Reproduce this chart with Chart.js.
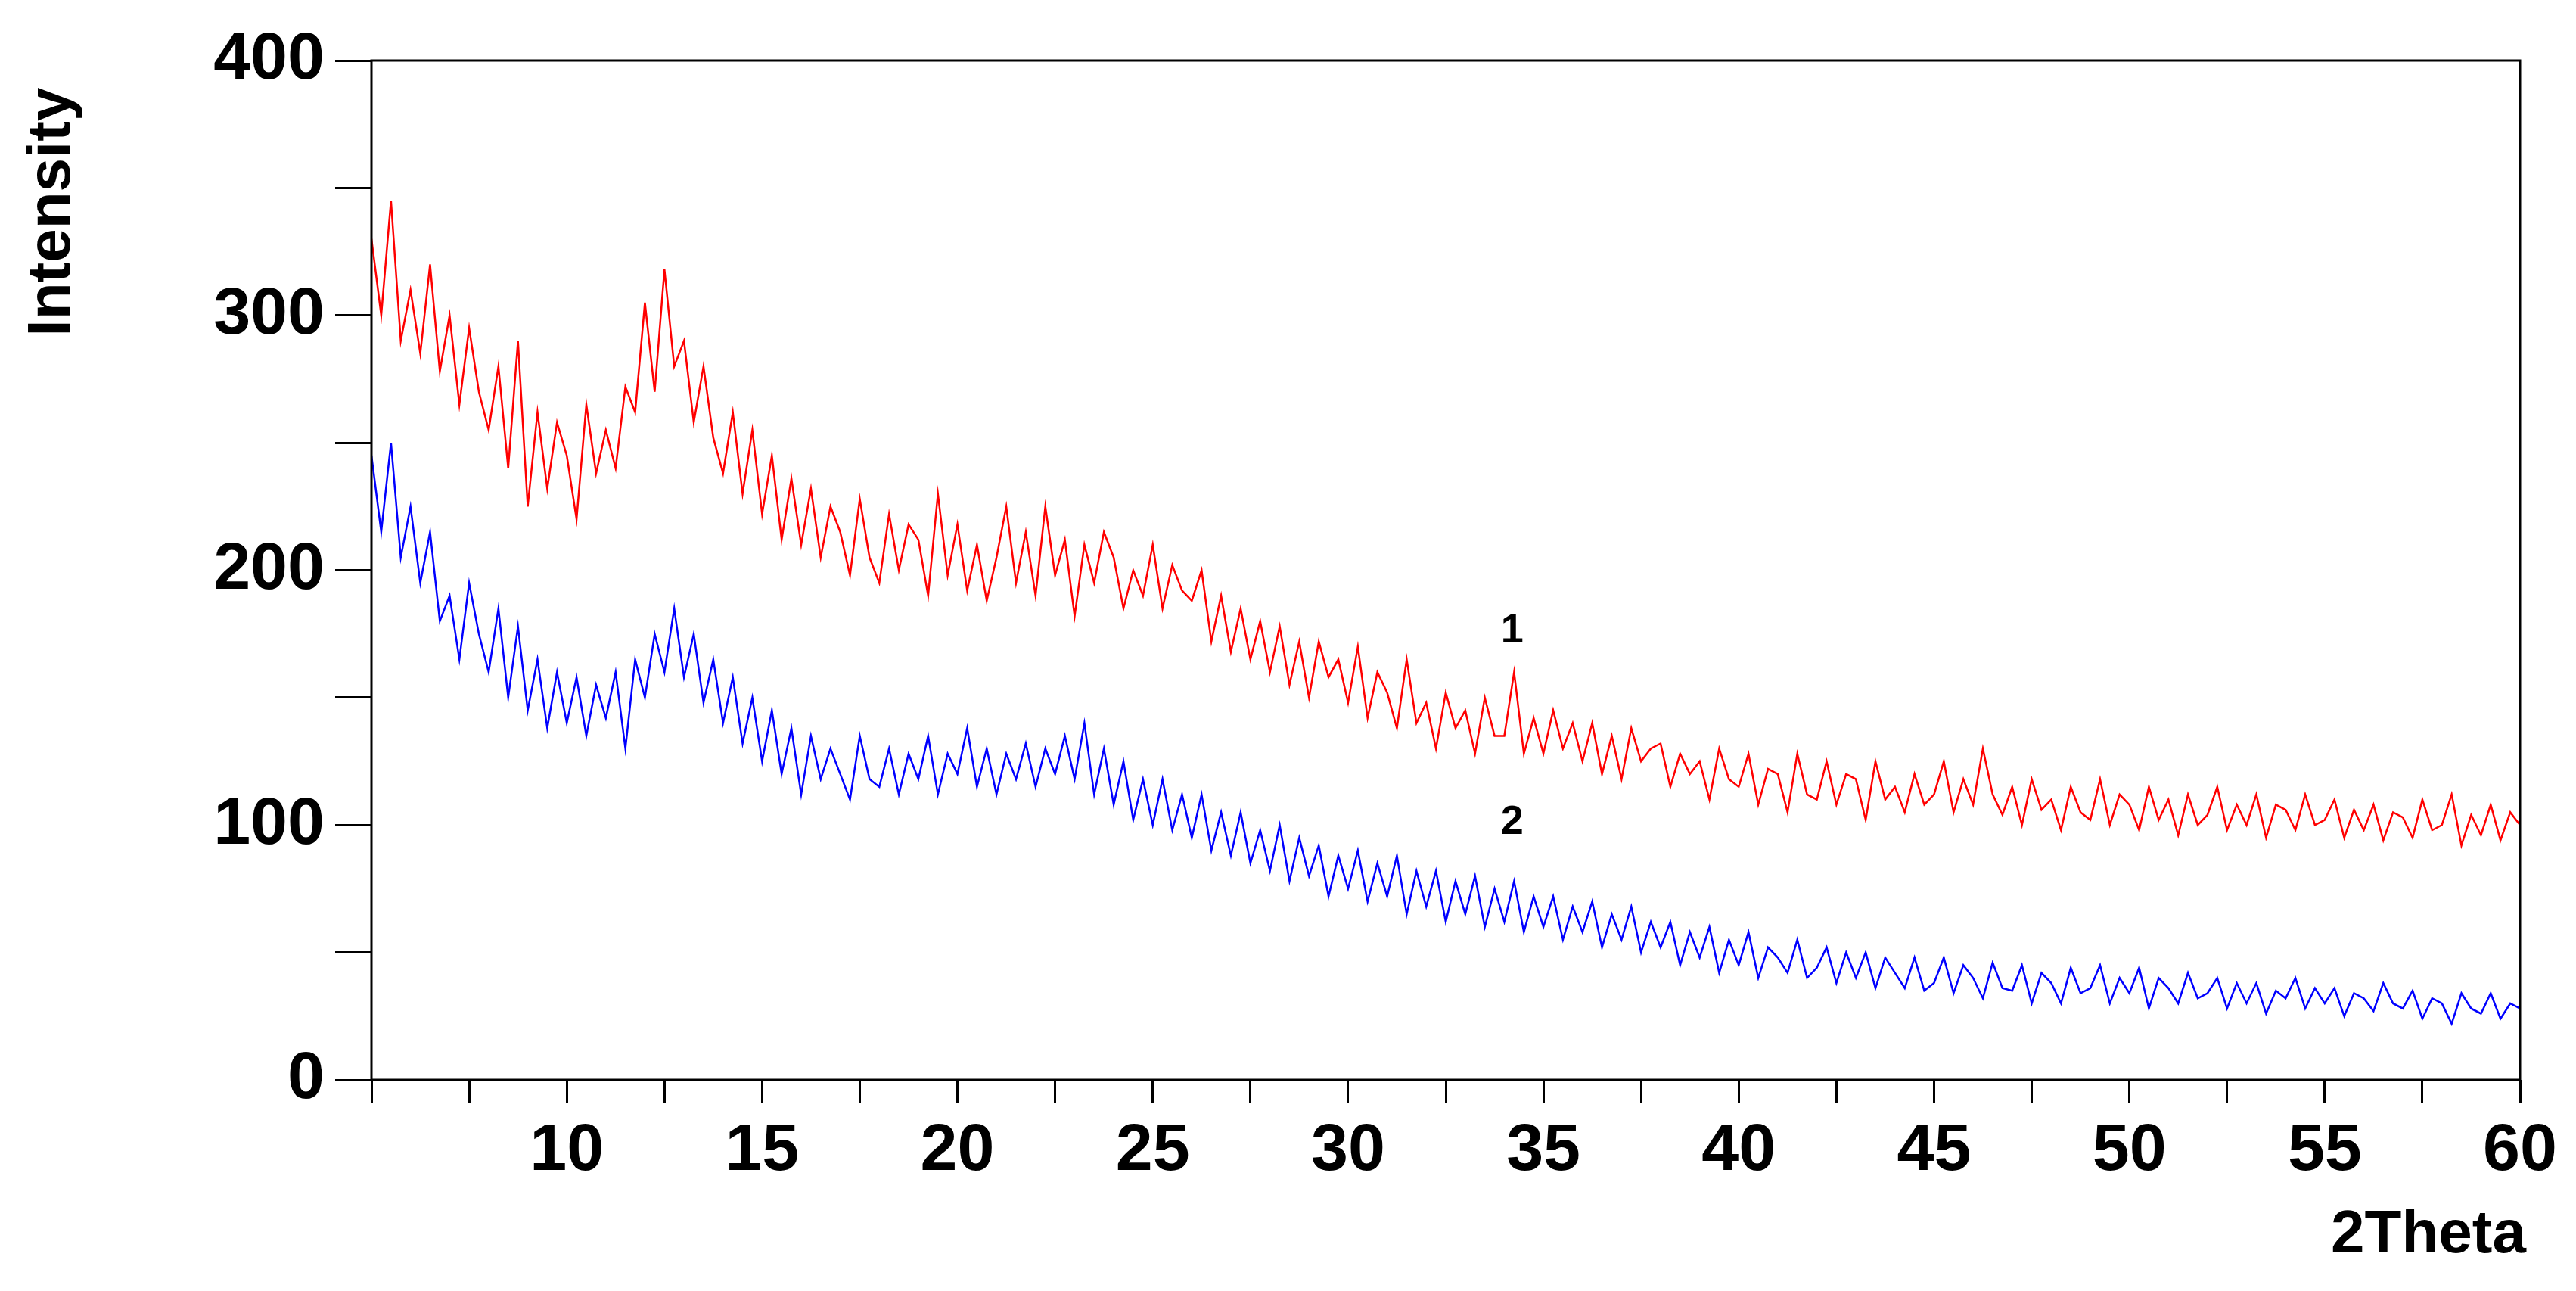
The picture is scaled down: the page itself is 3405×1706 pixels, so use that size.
<!DOCTYPE html>
<html>
<head>
<meta charset="utf-8">
<script src="https://cdn.jsdelivr.net/npm/chart.js@4/dist/chart.umd.min.js"></script>
<style>
  html, body { margin: 0; padding: 0; background: #fff; }
  #wrap { width: 3405px; height: 1706px; }
</style>
</head>
<body>
<div id="wrap"><canvas id="xrd"></canvas></div>
<script>
// 2Theta sampling: starts at 5 degrees, 0.25 degree step
const thetaStart = 5;
const thetaStep = 0.25;

// curve 1 (red)
const curve1 = [
  330,300,345,290, 310,285,320,278, 300,265,295,270, 255,280,240,290,
  225,262,232,258, 245,220,265,238, 255,240,272,262, 305,270,318,280,
  290,258,280,252, 238,262,230,255, 222,245,212,236, 210,232,205,225,
  215,198,228,205, 195,222,200,218, 212,190,230,198, 218,192,210,188,
  205,225,195,215, 190,225,198,212, 182,210,195,215, 205,185,200,190,
  210,185,202,192, 188,200,172,190, 168,185,165,180, 160,178,155,172,
  150,172,158,165, 148,170,142,160, 152,138,165,140, 148,130,152,138,
  145,128,150,135, 135,160,128,142, 128,145,130,140, 125,140,120,135,
  118,138,125,130, 132,115,128,120, 125,110,130,118, 115,128,108,122,
  120,105,128,112, 110,125,108,120, 118,102,125,110, 115,105,120,108,
  112,125,105,118, 108,130,112,104, 115,100,118,106, 110,98,115,105,
  102,118,100,112, 108,98,115,102, 110,96,112,100, 104,115,98,108,
  100,112,95,108, 106,98,112,100, 102,110,95,106, 98,108,94,105,
  103,95,110,98, 100,112,92,104, 96,108,94,105, 100
];

// curve 2 (blue)
const curve2 = [
  245,215,250,205, 225,195,215,180, 190,165,195,175, 160,185,150,178,
  145,165,138,160, 140,158,135,155, 142,160,130,165, 150,175,160,185,
  158,175,148,165, 140,158,132,150, 125,145,120,138, 112,135,118,130,
  120,110,135,118, 115,130,112,128, 118,135,112,128, 120,138,115,130,
  112,128,118,132, 115,130,120,135, 118,140,112,130, 108,125,102,118,
  100,118,98,112, 95,112,90,105, 88,105,85,98, 82,100,78,95,
  80,92,72,88, 75,90,70,85, 72,88,65,82, 68,82,62,78,
  65,80,60,75, 62,78,58,72, 60,72,55,68, 58,70,52,65,
  55,68,50,62, 52,62,45,58, 48,60,42,55, 45,58,40,52,
  48,42,55,40, 44,52,38,50, 40,50,36,48, 42,36,48,35,
  38,48,34,45, 40,32,46,36, 35,45,30,42, 38,30,44,34,
  36,45,30,40, 34,44,28,40, 36,30,42,32, 34,40,28,38,
  30,38,26,35, 32,40,28,36, 30,36,25,34, 32,27,38,30,
  28,35,24,32, 30,22,34,28, 26,34,24,30, 28
];

// curve labels: [text, 2Theta, intensity]
const curveLabels = [["1", 34.2, 176], ["2", 34.2, 101]];

const toPoints = arr => arr.map((v, i) => ({ x: thetaStart + i * thetaStep, y: v }));

const fontFamily = '"Liberation Sans", Arial, sans-serif';

// frame + text annotations
const decorations = {
  id: 'decorations',
  afterDraw(chart) {
    const { ctx, chartArea: a, scales } = chart;
    ctx.save();
    ctx.strokeStyle = '#000';
    ctx.lineWidth = 3;
    ctx.strokeRect(a.left, a.top, a.right - a.left, a.bottom - a.top);

    ctx.fillStyle = '#000';
    ctx.font = 'bold 54px ' + fontFamily;
    ctx.textAlign = 'center';
    ctx.textBaseline = 'middle';
    curveLabels.forEach(([t, x, y]) => {
      ctx.fillText(t, scales.x.getPixelForValue(x), scales.y.getPixelForValue(y));
    });

    ctx.font = 'bold 80px ' + fontFamily;
    ctx.fillText('2Theta', 3210, 1633);
    ctx.translate(70, 280);
    ctx.rotate(-Math.PI / 2);
    ctx.fillText('Intensity', 0, 0);
    ctx.restore();
  }
};

new Chart(document.getElementById('xrd'), {
  type: 'line',
  data: {
    datasets: [
      { data: toPoints(curve1), borderColor: '#ff0000', borderWidth: 2.5, pointRadius: 0, tension: 0 },
      { data: toPoints(curve2), borderColor: '#0000ff', borderWidth: 2.5, pointRadius: 0, tension: 0 }
    ]
  },
  options: {
    responsive: true,
    maintainAspectRatio: false,
    animation: false,
    layout: { padding: { top: 80, right: 74, left: 0, bottom: 0 } },
    plugins: { legend: { display: false }, tooltip: { enabled: false } },
    scales: {
      x: {
        type: 'linear',
        min: 5, max: 60,
        border: { display: false },
        grid: { drawOnChartArea: false, color: '#000', lineWidth: 3, tickLength: 30 },
        ticks: {
          stepSize: 2.5,
          autoSkip: false,
          maxRotation: 0,
          color: '#000',
          padding: 12,
          font: { family: fontFamily, size: 88, weight: 'bold' },
          callback: v => (v % 5 === 0 && v !== 5) ? v : ''
        },
        afterFit: s => { s.height = 1706 - 1427; }
      },
      y: {
        min: 0, max: 400,
        border: { display: false },
        grid: { drawOnChartArea: false, color: '#000', lineWidth: 3, tickLength: 48 },
        ticks: {
          stepSize: 50,
          autoSkip: false,
          color: '#000',
          padding: 14,
          font: { family: fontFamily, size: 88, weight: 'bold' },
          callback: v => v % 100 === 0 ? v : ''
        },
        afterFit: s => { s.width = 491; }
      }
    }
  },
  plugins: [decorations]
});
</script>
</body>
</html>
